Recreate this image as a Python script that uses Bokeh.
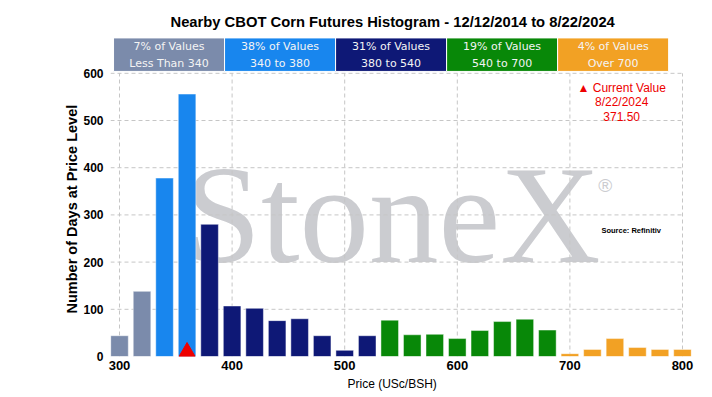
import math
from bokeh.plotting import figure
from bokeh.models import Range1d, FixedTicker, Label, Title
from bokeh.embed import file_html
from bokeh.resources import INLINE
from bokeh.core.properties import value

# ---------------- data ----------------
bin_starts = [300, 320, 340, 360, 380, 400, 420, 440, 460, 480, 500, 520, 540,
              560, 580, 600, 620, 640, 660, 680, 700, 720, 740, 760, 780, 800]
day_counts = [44, 138, 378, 556, 280, 107, 102, 76, 80, 44, 13, 44, 77,
              46, 47, 38, 55, 74, 79, 56, 6, 15, 38, 19, 15, 15]

group_upper = [340, 380, 540, 700]          # group boundaries (bin start < edge)
group_colors = ["#7b8bab", "#1886ee", "#0e1876", "#088808", "#f2a124"]
group_pct = ["7% of Values", "38% of Values", "31% of Values", "19% of Values", "4% of Values"]
group_desc = ["Less Than 340", "340 to 380", "380 to 540", "540 to 700", "Over 700"]

x_ticks = [300, 400, 500, 600, 700, 800]
y_ticks = [0, 100, 200, 300, 400, 500, 600]

current_value = 371.50
current_date = "8/22/2024"

title_text = "Nearby CBOT Corn Futures Histogram - 12/12/2014 to 8/22/2024"
x_title = "Price (USc/BSH)"
y_title = "Number of Days at Price Level"
source_text = "Source: Refinitiv"

# ---------------- derived ----------------
def group_of(x):
    for i, e in enumerate(group_upper):
        if x < e:
            return i
    return len(group_upper)

bar_colors = [group_colors[group_of(b)] for b in bin_starts]
bin_w = bin_starts[1] - bin_starts[0]
current_bin = math.floor(current_value / bin_w) * bin_w

FONT = "Liberation Sans"

p = figure(width=710, height=396,
           x_range=Range1d(292, 808), y_range=Range1d(0, 678),
           output_backend="svg", toolbar_location=None,
           min_border_left=110, min_border_right=19,
           min_border_top=36, min_border_bottom=40)

p.background_fill_color = "white"
p.border_fill_color = "white"
p.outline_line_color = None

p.title.text = title_text
p.title.align = "left"
p.title.offset = 60
p.title.standoff = 14
p.title.text_font = FONT
p.title.text_font_size = "14.75px"
p.title.text_font_style = "bold"
p.title.text_color = "#000000"

p.xgrid.visible = False
p.ygrid.visible = False

for ax in (p.xaxis[0], p.yaxis[0]):
    ax.axis_line_color = None
    ax.major_tick_line_color = None
    ax.minor_tick_line_color = None
    ax.major_tick_out = 0
    ax.major_tick_in = 0
    ax.minor_tick_out = 0
    ax.major_label_text_font = FONT
    ax.major_label_text_font_style = "bold"
    ax.major_label_text_color = "#000000"

p.xaxis.ticker = FixedTicker(ticks=x_ticks)
p.xaxis.major_label_text_font_size = "13px"
p.xaxis.major_label_standoff = 4
p.yaxis.ticker = FixedTicker(ticks=y_ticks)
p.yaxis.major_label_text_font_size = "12px"
p.yaxis.major_label_standoff = 7

# axis titles as side titles
xt = Title(text=x_title, align="left", offset=237, standoff=8, vertical_align="top",
           text_font=FONT, text_font_size="12px", text_font_style="normal",
           text_color="#000000")
p.add_layout(xt, "below")
yt = Title(text=y_title, align="left", offset=43, standoff=2,
           text_font=FONT, text_font_size="14.5px", text_font_style="bold",
           text_color="#000000")
p.add_layout(yt, "left")

# watermark
wm = Label(x=357, y=300, text="StoneX", text_font="Liberation Serif",
           text_font_size="139px", text_color="#cbccd0", text_align="left",
           text_baseline="alphabetic", level="image")
p.add_layout(wm)
reg = Label(x=731.5, y=362, text="\u00ae", text_font="Liberation Sans",
            text_font_size="19px", text_color="#cbccd0", text_align="center",
            text_baseline="middle", level="image")
p.add_layout(reg)

# grid lines
grid_top = max(y_ticks)
p.segment(x0=x_ticks, y0=[0] * len(x_ticks), x1=x_ticks, y1=[grid_top] * len(x_ticks),
          line_color="#c6c6c6", line_width=1, line_dash="4 3")
hy = y_ticks[1:]
p.segment(x0=[p.x_range.start] * len(hy), y0=hy, x1=[max(x_ticks)] * len(hy), y1=hy,
          line_color="#c6c6c6", line_width=1, line_dash="4 3")

# bars
p.vbar(x=bin_starts, top=day_counts, width=bin_w * 0.78, bottom=0,
       fill_color=bar_colors, line_color="white", line_alpha=0.45, line_width=1)

# current value marker
p.scatter(x=[current_bin], y=[10], marker="triangle", size=16,
          fill_color="#ee0000", line_color="#ee0000")

# header boxes
n = len(group_colors)
h_left, h_right = 294.7, 787.7
cw = (h_right - h_left) / n
lefts = [h_left + i * cw for i in range(n)]
rights = [l + cw for l in lefts]
centers = [l + cw / 2 for l in lefts]
p.quad(left=lefts, right=rights, bottom=[604] * n, top=[675] * n,
       fill_color=group_colors, line_color="white", line_width=1)
p.text(x=centers, y=[656] * n, text=group_pct, text_align="center", text_baseline="middle",
       text_font=value("DejaVu Sans"), text_font_size="11px", text_color="#f4f4f4")
p.text(x=centers, y=[620] * n, text=group_desc, text_align="center", text_baseline="middle",
       text_font=value("DejaVu Sans"), text_font_size="11px", text_color="#f4f4f4")

# current value annotation
cv_lines = ["\u25b2 Current Value", current_date, f"{current_value:.2f}"]
for txt, yy in zip(cv_lines, [568, 538.5, 509]):
    p.add_layout(Label(x=746, y=yy, text=txt, text_align="center", text_baseline="middle",
                       text_font=FONT, text_font_size="12px", text_color="#ee0000"))

p.add_layout(Label(x=728, y=267, text=source_text, text_align="left", text_baseline="middle",
                   text_font=FONT, text_font_size="7.5px", text_font_style="bold",
                   text_color="#000000"))

open("out.html", "w").write(file_html(p, INLINE))
